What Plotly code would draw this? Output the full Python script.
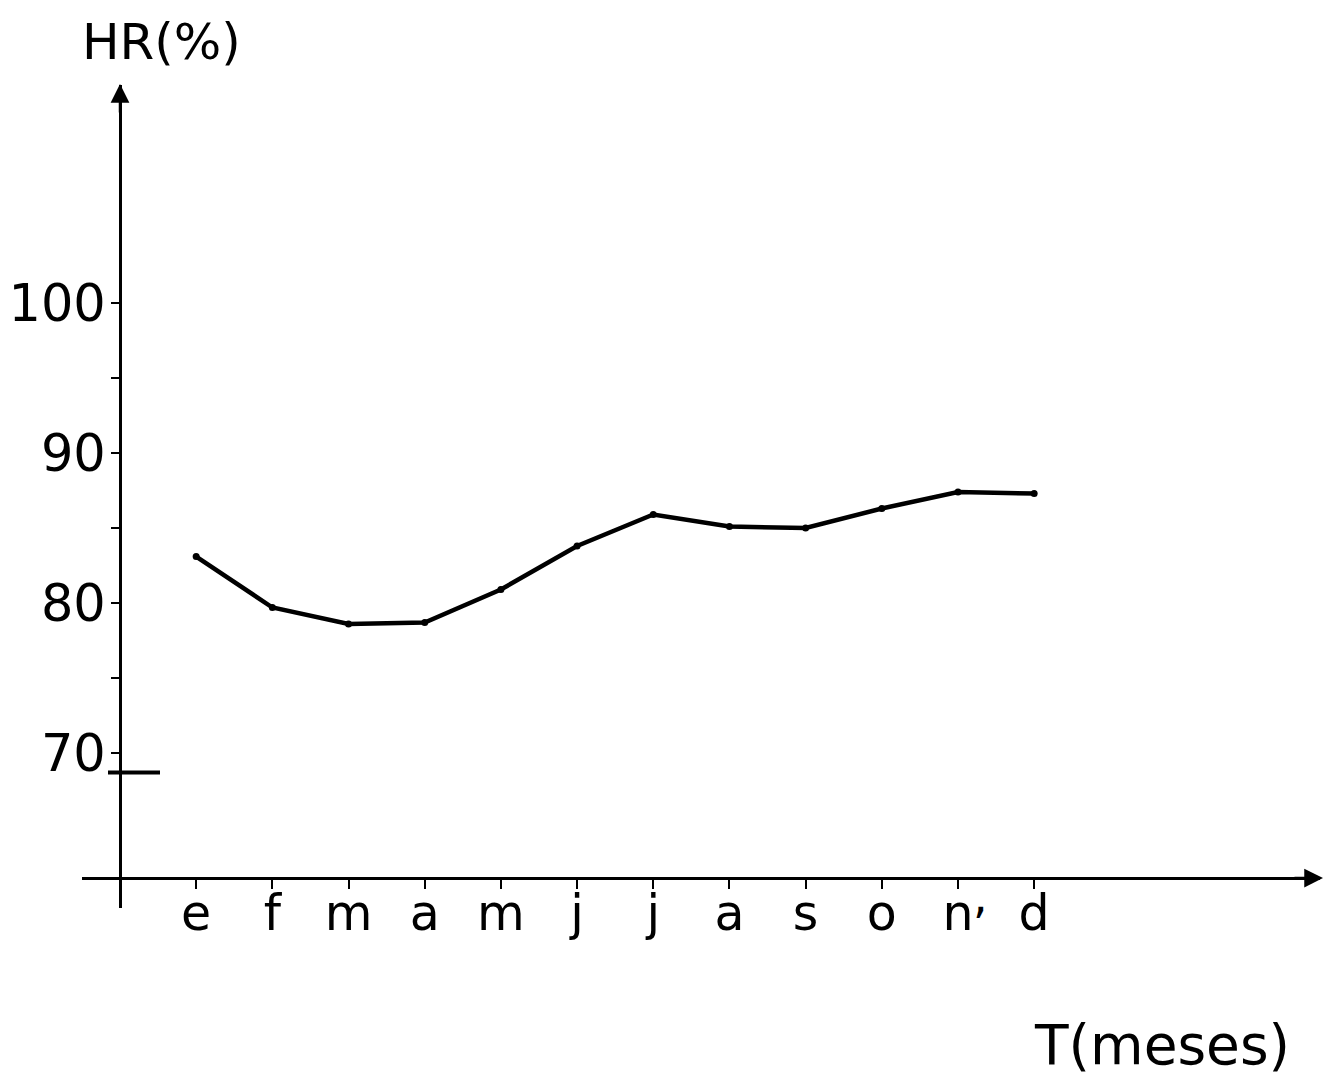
import plotly.graph_objects as go

# Data
month_labels = ["e", "f", "m", "a", "m", "j", "j", "a", "s", "o", "n", "d"]
month_index = list(range(1, 13))
hr_values = [83.1, 79.7, 78.6, 78.7, 80.9, 83.8, 85.9, 85.1, 85.0, 86.3, 87.4, 87.3]
y_tick_vals = [70, 75, 80, 85, 90, 95, 100]
y_tick_text = ["70", "", "80", "", "90", "", "100"]

W, H = 1326, 1077
L, R, T, B = 82, 6, 85, 169
PW = W - L - R
PH = H - T - B

FONT = "DejaVu Sans"

def px_to_paper_x(px):
    return (px - L) / PW

def py_to_paper_y(py):
    return (H - B - py) / PH

fig = go.Figure()
fig.add_trace(go.Scatter(
    x=month_index, y=hr_values, mode="lines+markers",
    line=dict(color="black", width=4.5),
    marker=dict(color="black", size=7),
    showlegend=False, hoverinfo="skip",
))

x_range = [(L - 120) / 76.18, (W - R - 120) / 76.18]
y_range = [59.67, 114.53]

fig.update_layout(
    width=W, height=H,
    margin=dict(l=L, r=R, t=T, b=B, autoexpand=False),
    paper_bgcolor="white", plot_bgcolor="white",
    font=dict(family=FONT, color="black"),
    xaxis=dict(
        range=x_range, domain=[0, 1], anchor="free",
        position=py_to_paper_y(878), automargin=False,
        tickmode="array", tickvals=month_index, ticktext=month_labels,
        ticks="outside", ticklen=9, tickwidth=2, tickcolor="black",
        ticklabelstandoff=-18,
        showline=True, linecolor="black", linewidth=3,
        showgrid=False, zeroline=False,
        tickfont=dict(size=49, family=FONT, color="black"),
    ),
    yaxis=dict(
        range=y_range, domain=[0, 1], anchor="free",
        position=px_to_paper_x(120), automargin=False,
        tickmode="array", tickvals=y_tick_vals, ticktext=y_tick_text,
        ticks="outside", ticklen=8, tickwidth=2, tickcolor="black",
        ticklabelstandoff=-5,
        showline=True, linecolor="black", linewidth=3,
        showgrid=False, zeroline=False,
        tickfont=dict(size=51, family=FONT, color="black"),
    ),
)

# break mark near 70
fig.add_shape(type="line", xref="x", yref="y",
              x0=(108 - 120) / 76.18, x1=(160 - 120) / 76.18, y0=68.7, y1=68.7,
              line=dict(color="black", width=4))

# arrowheads
fig.add_annotation(xref="paper", yref="paper",
                   x=px_to_paper_x(120), y=py_to_paper_y(84),
                   ax=0, ay=30, axref="pixel", ayref="pixel",
                   showarrow=True, arrowhead=2, arrowsize=1.5, arrowwidth=2.5,
                   arrowcolor="black", text="")
fig.add_annotation(xref="paper", yref="paper",
                   x=px_to_paper_x(1323), y=py_to_paper_y(878),
                   ax=-30, ay=0, axref="pixel", ayref="pixel",
                   showarrow=True, arrowhead=2, arrowsize=1.5, arrowwidth=2.5,
                   arrowcolor="black", text="")

# axis titles
fig.add_annotation(xref="paper", yref="paper",
                   x=px_to_paper_x(80), y=py_to_paper_y(42),
                   xanchor="left", yanchor="middle", showarrow=False,
                   text="HR(%)", font=dict(size=50, family=FONT, color="black"))
fig.add_annotation(xref="paper", yref="paper",
                   x=px_to_paper_x(1032), y=py_to_paper_y(1045),
                   xanchor="left", yanchor="middle", showarrow=False,
                   text="T(meses)", font=dict(size=55, family=FONT, color="black"))
# comma between n and d
fig.add_annotation(xref="paper", yref="paper",
                   x=px_to_paper_x(980), y=py_to_paper_y(897),
                   xanchor="center", yanchor="middle", showarrow=False,
                   text=",", font=dict(size=46, family=FONT, color="black"))

fig.write_html("out.html",
               config={"displayModeBar": False},
               post_script="document.body.style.margin='0';document.body.style.overflow='hidden';")
